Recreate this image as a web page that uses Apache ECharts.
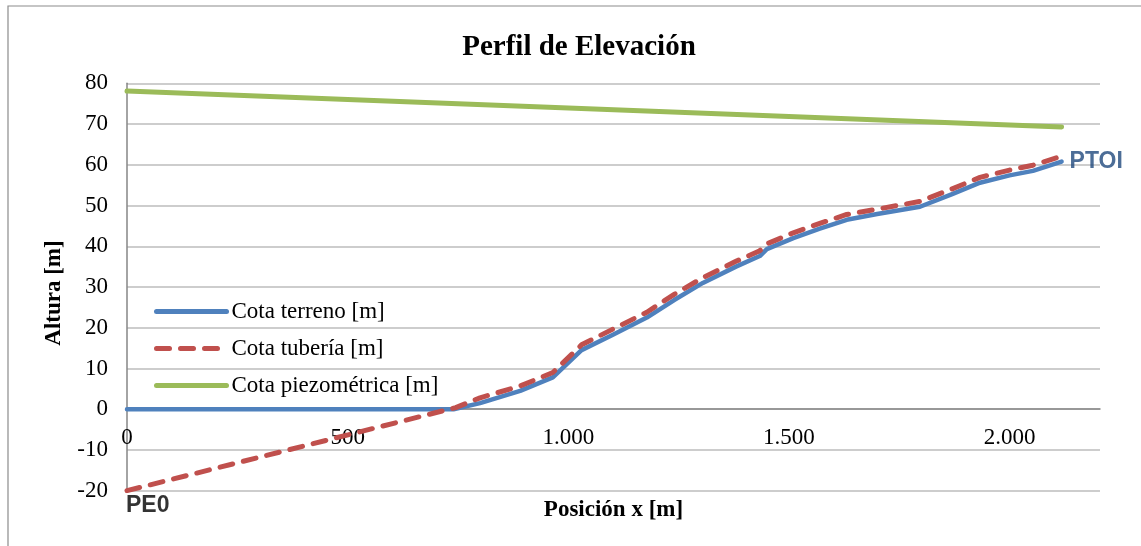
<!DOCTYPE html>
<html>
<head>
<meta charset="utf-8">
<script src="https://cdn.jsdelivr.net/npm/echarts@6/dist/echarts.min.js"></script>
<style>
  html, body { margin: 0; padding: 0; background: #ffffff; }
  #chart { width: 1141px; height: 546px; }
</style>
</head>
<body>
<div id="chart"></div>
<script>
// Ground profile (terrain), distance along the line [m] and elevation [m]
const terrenoX = [0, 740, 800, 891, 965, 1030, 1100, 1178, 1240, 1305, 1380, 1434, 1450, 1510, 1570, 1631, 1700, 1797, 1870, 1933, 2000, 2053, 2118];
const terrenoY = [0, 0, 1.5, 4.5, 7.8, 14.5, 18.2, 22.5, 26.8, 31.0, 35.0, 37.6, 39.3, 42.0, 44.3, 46.5, 47.9, 49.7, 52.8, 55.6, 57.4, 58.5, 60.8];

// Pipe elevation [m]
const tuberiaX = [0, 745, 800, 891, 965, 1030, 1100, 1178, 1240, 1305, 1380, 1434, 1450, 1510, 1570, 1631, 1700, 1797, 1870, 1933, 2000, 2053, 2118];
const tuberiaY = [-20, 0.4, 2.8, 5.7, 9.0, 15.8, 19.6, 23.8, 28.2, 32.3, 36.3, 38.9, 40.6, 43.3, 45.6, 47.8, 49.1, 51.0, 54.1, 56.9, 58.7, 59.9, 62.1];

// Hydraulic grade line [m]
const piezoX = [0, 2118];
const piezoY = [78.1, 69.3];

// Axis ranges and tick steps
const xMin = 0, xMax = 2205, xStep = 500;
const yMin = -20, yMax = 80, yStep = 10;

// Point names
const inicio = 'PE0';
const fin = 'PTOI';

const pairs = (xs, ys) => xs.map((x, i) => [x, ys[i]]);

const serif = '"Liberation Serif", "Times New Roman", serif';
const sans = '"Liberation Sans", Arial, sans-serif';

const fmtMiles = v => String(Math.round(v)).replace(/\B(?=(\d{3})+(?!\d))/g, '.');

const chart = echarts.init(document.getElementById('chart'), null, { renderer: 'canvas' });

const last = tuberiaX.length - 1;

chart.setOption({
  animation: false,
  backgroundColor: '#ffffff',
  title: {
    text: 'Perfil de Elevación',
    left: 574,
    textAlign: 'center',
    top: 28,
    textStyle: { fontFamily: serif, fontSize: 29, fontWeight: 'bold', color: '#000000' }
  },
  graphic: [{
    type: 'rect',
    shape: { x: 8, y: 6, width: 1300, height: 700 },
    style: { fill: 'none', stroke: '#8c8c8c', lineWidth: 1.2 },
    silent: true,
    z: -1
  }],
  legend: {
    orient: 'vertical',
    left: 149,
    top: 294,
    itemWidth: 70,
    itemHeight: 10,
    itemGap: 12,
    itemStyle: { opacity: 0 },
    lineStyle: { width: 5 },
    data: ['Cota terreno [m]', 'Cota tubería [m]', 'Cota piezométrica [m]'],
    textStyle: { fontFamily: serif, fontSize: 23, color: '#000000', lineHeight: 25 }
  },
  grid: { left: 127, right: 41, top: 83.3, bottom: 55.3, outerBoundsMode: 'none', containLabel: false },
  xAxis: {
    type: 'value',
    min: xMin,
    max: xMax,
    interval: xStep,
    name: 'Posición x [m]',
    nameLocation: 'middle',
    nameGap: 8,
    nameTextStyle: { fontFamily: serif, fontSize: 23, fontWeight: 'bold', color: '#000000' },
    axisLine: { show: true, onZero: true, lineStyle: { color: '#868686', width: 1.5 } },
    axisTick: { show: false },
    splitLine: { show: false },
    axisLabel: {
      showMaxLabel: false,
      margin: -64,
      fontFamily: serif,
      fontSize: 23,
      color: '#000000',
      formatter: fmtMiles
    }
  },
  yAxis: {
    type: 'value',
    min: yMin,
    max: yMax,
    interval: yStep,
    name: 'Altura [m]',
    nameLocation: 'middle',
    nameGap: 61,
    nameRotate: 90,
    nameTextStyle: { fontFamily: serif, fontSize: 23, fontWeight: 'bold', color: '#000000', padding: [0, 12, 0, 0] },
    axisLine: { show: true, lineStyle: { color: '#868686', width: 1.5 } },
    axisTick: { show: false },
    splitLine: { show: true, lineStyle: { color: '#bdbdbd', width: 1.5 } },
    axisLabel: { margin: 19, fontFamily: serif, fontSize: 23, color: '#000000' }
  },
  series: [
    {
      name: 'Cota terreno [m]',
      type: 'line',
      data: pairs(terrenoX, terrenoY),
      symbol: 'none',
      color: '#4f81bd',
      lineStyle: { color: '#4f81bd', width: 4.5, cap: 'round', join: 'round' },
      z: 2
    },
    {
      name: 'Cota tubería [m]',
      type: 'line',
      data: pairs(tuberiaX, tuberiaY),
      symbol: 'none',
      color: '#c0504d',
      lineStyle: { color: '#c0504d', width: 5, type: [13, 11], cap: 'round', join: 'round' },
      z: 3
    },
    {
      name: 'Cota piezométrica [m]',
      type: 'line',
      data: pairs(piezoX, piezoY),
      symbol: 'none',
      color: '#9bbb59',
      lineStyle: { color: '#9bbb59', width: 5, cap: 'round' },
      z: 4
    },
    {
      // Start and end point names
      type: 'scatter',
      silent: true,
      symbolSize: 2,
      itemStyle: { color: 'rgba(0,0,0,0)' },
      z: 5,
      data: [
        {
          value: [tuberiaX[0], tuberiaY[0]],
          label: {
            show: true, formatter: inicio, position: [0, 4], align: 'left', verticalAlign: 'top',
            fontFamily: sans, fontSize: 23, fontWeight: 'bold', color: '#000000'
          }
        },
        {
          value: [terrenoX[last], terrenoY[last]],
          label: {
            show: true, formatter: fin, position: 'right', distance: 7,
            fontFamily: sans, fontSize: 23, fontWeight: 'bold', color: '#1f497d'
          }
        }
      ]
    }
  ]
});
</script>
</body>
</html>
